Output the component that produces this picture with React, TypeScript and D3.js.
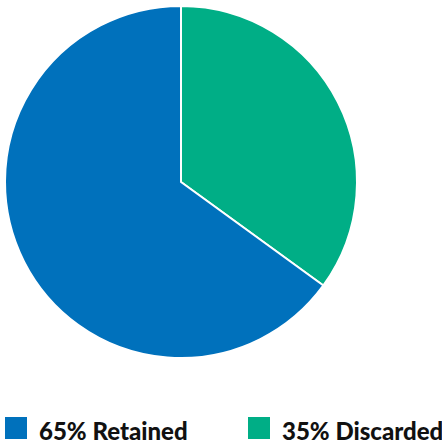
import React from "react";
import * as d3 from "d3";

const categories = ["Discarded", "Retained"];
const values = [35, 65];
const colors = ["#00AE86", "#0071BC"];
const legendOrder = [1, 0];

export default function App() {
  const width = 442;
  const height = 445;
  const cx = 181;
  const cy = 182;
  const r = 176;
  const pie = d3.pie<number>().sort(null).value((d) => d);
  const arcs = pie(values);
  const arc = d3.arc<d3.PieArcDatum<number>>().innerRadius(0).outerRadius(r);
  const legendX = [5, 248];
  return (
    <svg
      width={width}
      height={height}
      style={{ position: "absolute", left: 0, top: 0 }}
      fontFamily="Lato"
    >
      <g transform={`translate(${cx},${cy})`}>
        {arcs.map((a, i) => (
          <path key={i} d={arc(a) || ""} fill={colors[i]} stroke="#fff" strokeWidth={2} strokeLinejoin="round" />
        ))}
      </g>
      {legendOrder.map((idx, k) => (
        <g key={idx} transform={`translate(${legendX[k]},417)`}>
          <rect width={22} height={22} fill={colors[idx]} />
          <text x={34} y={23} fontSize={24} fontWeight={900} fill="#111">
            {`${values[idx]}% ${categories[idx]}`}
          </text>
        </g>
      ))}
    </svg>
  );
}
